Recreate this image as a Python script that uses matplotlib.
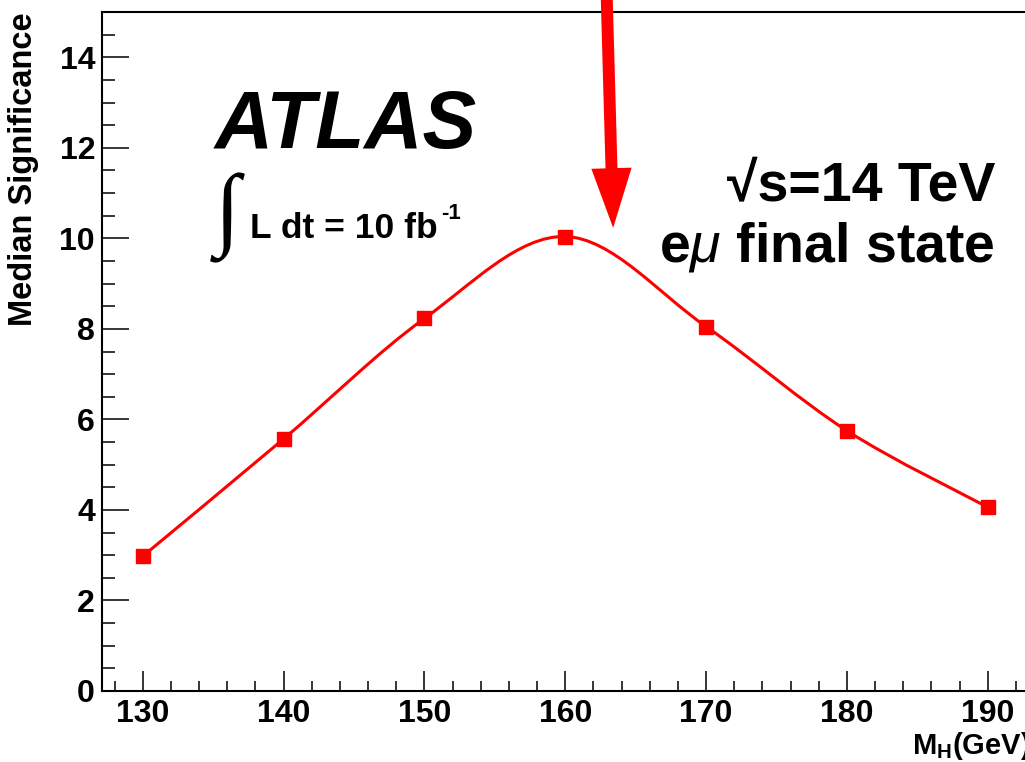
import numpy as np
import matplotlib
matplotlib.use('Agg')
import matplotlib.pyplot as plt
from matplotlib.path import Path
from matplotlib.patches import PathPatch
from matplotlib.ticker import MultipleLocator

plt.rcParams['font.family'] = ['Liberation Sans', 'DejaVu Sans']
plt.rcParams['mathtext.fontset'] = 'custom'
plt.rcParams['mathtext.rm'] = 'Liberation Sans:bold'
plt.rcParams['mathtext.it'] = 'Liberation Sans:italic'
plt.rcParams['mathtext.bf'] = 'Liberation Sans:bold'

# Higgs mass points and median significance
mass = [130, 140, 150, 160, 170, 180, 190]
significance = [2.98, 5.57, 8.23, 10.04, 8.05, 5.75, 4.06]

# arrow marking the WW threshold region
arrow_top = (162.9, 15.8)
arrow_tip = (163.4, 10.23)

red = '#ff0000'

fig = plt.figure(figsize=(10.25, 7.62), dpi=100)
ax = fig.add_axes([102 / 1025, 71 / 762, (1037 - 102) / 1025, (691 - 12) / 762])
ax.set_xlim(127.1, 193.5)
ax.set_ylim(0, 15)

# smooth curve through the points (Catmull-Rom as cubic bezier)
pts = np.column_stack([mass, significance]).astype(float)
ext = np.vstack([pts[0], pts, pts[-1]])
verts = [tuple(pts[0])]
codes = [Path.MOVETO]
for i in range(1, len(ext) - 2):
    p0, p1, p2, p3 = ext[i - 1], ext[i], ext[i + 1], ext[i + 2]
    c1 = p1 + (p2 - p0) / 6.0
    c2 = p2 - (p3 - p1) / 6.0
    verts += [tuple(c1), tuple(c2), tuple(p2)]
    codes += [Path.CURVE4] * 3
ax.add_patch(PathPatch(Path(verts, codes), facecolor='none', edgecolor=red, lw=2.2))
ax.plot(mass, significance, 's', color=red, markersize=9.5, zorder=3)

ax.annotate('', xy=arrow_tip, xytext=arrow_top, xycoords='data',
            annotation_clip=False,
            arrowprops=dict(arrowstyle='simple,head_length=43,head_width=29,tail_width=8.6',
                            mutation_scale=1, color=red, shrinkA=0, shrinkB=0, lw=0))

# axes style
ax.xaxis.set_major_locator(MultipleLocator(10))
ax.xaxis.set_minor_locator(MultipleLocator(2))
ax.yaxis.set_major_locator(MultipleLocator(2))
ax.yaxis.set_minor_locator(MultipleLocator(0.5))
ax.tick_params(which='both', direction='in', width=1.1, labelsize=23)
ax.tick_params(axis='y', which='major', length=19.4, pad=5)
ax.tick_params(axis='y', which='minor', length=9.4)
ax.tick_params(axis='x', which='major', length=14.4, pad=6)
ax.tick_params(axis='x', which='minor', length=7.2)
for lab in ax.get_xticklabels() + ax.get_yticklabels():
    lab.set_fontweight('bold')
for sp in ax.spines.values():
    sp.set_linewidth(1.5)

fig.text(24 / 1025, 1 - 12 / 762, 'Median Significance', rotation=90,
         ha='center', va='top', fontsize=23.5, fontweight='bold')
fig.text(1030 / 1025, 1 - 754 / 762, r'M$_{\mathrm{H}}$(GeV)', ha='right', va='baseline',
         fontsize=21, fontweight='bold')

fig.text(215 / 1025, 1 - 148 / 762, 'ATLAS', ha='left', va='baseline',
         fontsize=58, fontweight='bold', fontstyle='italic')
fig.text(227 / 1025, 1 - 218 / 762, '∫', ha='center', va='center', fontsize=66,
         family=['Liberation Serif', 'DejaVu Serif'])
fig.text(250 / 1025, 1 - 238 / 762, 'L dt = 10 fb', ha='left', va='baseline',
         fontsize=25.5, fontweight='bold')
fig.text(441 / 1025, 1 - 219 / 762, '-1', ha='left', va='baseline',
         fontsize=16, fontweight='bold')

fig.text(995 / 1025, 1 - 200 / 762, '√s=14 TeV', ha='right', va='baseline',
         fontsize=40, fontweight='bold')
fig.text(995 / 1025, 1 - 262 / 762, r'e$\mu$ final state', ha='right', va='baseline',
         fontsize=40, fontweight='bold')

fig.savefig('out.png', dpi=100)
